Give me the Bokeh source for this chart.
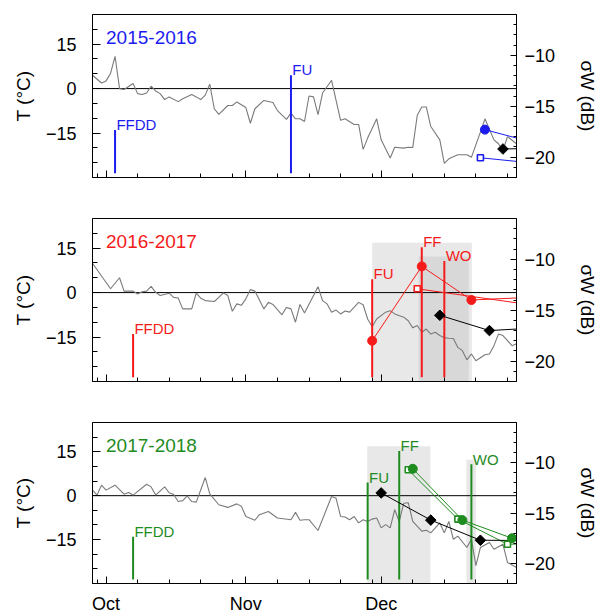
import numpy as np
from bokeh.plotting import figure
from bokeh.models import Range1d, LinearAxis, FixedTicker, Span
from bokeh.layouts import column
from bokeh.embed import file_html
from bokeh.resources import INLINE
from bokeh.core.properties import value

FONT = "Liberation Sans"

# ---- axes (x = days after 1 October) ----
month_ticks = [0, 31, 61]
month_labels = ["Oct", "Nov", "Dec"]
week_ticks = [-2, 7, 14, 21, 28, 38, 45, 52, 59, 68, 75, 82, 89]
t_ticks = [-15, 0, 15]
t_labels = ["\u221215", "0", "15"]
t_minor = [-25, -20, -10, -5, 5, 10, 20]
s_ticks = [-20, -15, -10]
s_labels = ["\u221220", "\u221215", "\u221210"]
s_minor = [-22, -21, -19, -18, -17, -16, -14, -13, -12, -11, -9, -8, -7, -6]

seasons = ["2015-2016", "2016-2017", "2017-2018"]
colors = ["#1c1cf0", "#f51b1b", "#1f8c1f"]

# ---- air temperature (°C) ----
t1_days = [-3, -1, 0, 1, 2, 3, 4, 6, 7, 8, 9, 10, 11, 12, 13, 14, 16, 17, 19, 20,
           21, 22, 23, 24, 25, 27, 28, 29, 31, 32, 33, 35, 37, 38, 40, 41, 42, 43, 44, 45,
           46, 47, 48, 50, 52, 53, 55, 56, 57, 58, 60, 61, 63, 64, 66, 67, 68, 69, 70, 71,
           72, 74, 75, 76, 78, 80, 81, 83, 84, 86, 87, 88, 89, 91]
t1_vals = [4.5, 1.9, 2.6, 5.1, 10.9, 0.0, -0.3, 1.7, -1.7, -2.0, -1.5, 0.8, -0.8, -1.7, -3.7, -2.8, -4.4, -3.4, -2.0, -2.8,
           -3.7, -2.2, 1.5, -6.8, -8.7, -5.7, -5.7, -4.5, -6.4, -11.7, -6.8, -4.0, -4.7, -7.4, -10.4, -8.3, -10.2, -10.2, -11.1, -2.5,
           -2.8, -8.8, -1.5, 2.8, -10.7, -10.2, -12.1, -12.1, -20.5, -16.7, -10.2, -17.3, -23.4, -19.8, -20.1, -19.8, -19.9, -9.0, -6.2, -6.2,
           -12.8, -17.3, -25.2, -23.7, -22.3, -22.3, -23.2, -14.7, -10.2, -17.3, -18.6, -20.9, -16.2, -18.6]

t2_days = [-3, 1, 3, 4, 6, 7, 8, 9, 10, 11, 12, 14, 15, 16, 17, 19, 20, 21, 22, 24,
           25, 26, 27, 28, 29, 30, 31, 32, 33, 35, 36, 37, 39, 40, 41, 42, 43, 44, 47, 48,
           49, 50, 51, 52, 53, 54, 56, 57, 58, 59, 60, 62, 63, 64, 66, 67, 68, 69, 70, 71,
           72, 73, 74, 75, 76, 77, 78, 79, 80, 81, 82, 84, 85, 86, 87, 88, 90, 91]
t2_vals = [9.9, 1.3, 5.0, 0.5, 0.5, -0.5, 0.3, 0.5, 2.1, 0.1, -1.0, -0.2, -1.6, -1.8, -5.5, -5.5, -0.2, -1.9, -2.7, -3.0,
           -1.6, -0.1, -1.0, -6.3, -3.8, -4.3, -2.1, 1.0, 0.5, -5.5, -3.3, -4.0, -7.5, -5.0, -5.5, -10.0, -4.0, -6.9, 2.0, -2.7,
           -3.8, -6.6, -5.9, -7.2, -6.2, -6.6, -3.3, -4.1, -8.9, -11.5, -8.9, -6.6, -6.1, -7.2, -8.3, -9.5, -11.9, -11.1, -13.4, -12.3,
           -14.0, -13.4, -14.5, -15.2, -15.4, -15.5, -18.5, -19.6, -22.7, -20.7, -23.0, -21.0, -20.7, -17.9, -14.0, -14.5, -17.9, -17.3]

t3_days = [-3, -2, -1, 0, 2, 4, 5, 6, 9, 10, 11, 13, 14, 15, 16, 17, 18, 19, 20, 22,
           23, 25, 27, 29, 30, 31, 33, 34, 36, 38, 41, 42, 43, 44, 45, 47, 50, 51, 52, 53,
           54, 55, 56, 57, 58, 59, 60, 61, 62, 63, 64, 65, 66, 67, 68, 70, 71, 72, 74, 75,
           76, 77, 78, 80, 81, 82, 83, 85, 86, 88, 89, 91]
t3_vals = [1.9, 0.2, 3.6, 1.9, 3.6, 0.5, 1.1, 0.2, 3.9, 3.0, 0.2, 3.0, 1.0, 0.4, -2.0, -1.7, -0.1, -2.0, -2.2, 6.2,
           0.6, -3.1, -4.0, -2.8, -3.6, -7.1, -8.4, -6.5, -5.4, -7.6, -8.2, -5.7, -8.4, -8.2, -8.2, -11.9, -0.3, -0.9, -7.1, -7.3,
           -8.2, -7.1, -9.3, -8.2, -8.8, -8.0, -7.6, -11.0, -9.9, -11.0, -4.8, -8.8, -2.6, -2.4, -8.8, -12.1, -11.8, -12.7, -9.3, -12.7,
           -8.8, -14.9, -13.8, -17.7, -14.9, -23.9, -17.7, -16.0, -18.3, -16.6, -22.8, -24.5]

# ---- events (day, name) and their line tops (°C) ----
ev1_days = [2, 41]
ev1_names = ["FFDD", "FU"]
ev2_days = [6, 59, 70, 75]
ev2_names = ["FFDD", "FU", "FF", "WO"]
ev3_days = [6, 58, 65, 81]
ev3_names = ["FFDD", "FU", "FF", "WO"]
event_top = {"FFDD": -14.0, "FU": 4.5, "FF": 15.3, "WO": 10.7}
event_bottom = -28.6

# ---- shaded periods (start day, end day, top °C) ----
shade2_left = [59.0, 69.3]
shade2_right = [81.1, 80.4]
shade2_top = [16.8, 12.2]
shade3_left = [57.9, 79.9]
shade3_right = [71.9, 82.0]
shade3_top = [16.85, 12.3]

# ---- backscatter sigma_W (dB) ----
c1_days, c1_vals = [84, 95], [-17.3, -18.6]
q1_days, q1_vals = [83, 95], [-20.06, -20.6]
d1_days, d1_vals = [88, 101], [-19.2, -19.1]

c2_days, c2_vals = [59, 70, 81, 101], [-18.0, -10.7, -14.0, -13.6]
q2_days, q2_vals = [69, 101], [-12.9, -14.9]
d2_days, d2_vals = [74, 85, 101], [-15.5, -17.0, -16.6]

c3_days, c3_vals = [68, 79, 90, 101], [-10.6, -15.7, -17.5, -17.6]
q3_days, q3_vals = [67, 78, 89, 101], [-10.7, -15.6, -18.1, -18.0]
d3_days, d3_vals = [61, 72, 83, 101], [-13.0, -15.7, -17.7, -17.75]

panels = [
    dict(t=(t1_days, t1_vals), ev=(ev1_days, ev1_names), shade=None,
         c=(c1_days, c1_vals), q=(q1_days, q1_vals), d=(d1_days, d1_vals)),
    dict(t=(t2_days, t2_vals), ev=(ev2_days, ev2_names), shade=(shade2_left, shade2_right, shade2_top),
         c=(c2_days, c2_vals), q=(q2_days, q2_vals), d=(d2_days, d2_vals)),
    dict(t=(t3_days, t3_vals), ev=(ev3_days, ev3_names), shade=(shade3_left, shade3_right, shade3_top),
         c=(c3_days, c3_vals), q=(q3_days, q3_vals), d=(d3_days, d3_vals)),
]


def make_panel(i):
    color = colors[i]
    data = panels[i]
    first = i == 0
    last = i == 2
    border_top = 14 if first else 6
    border_bottom = 31 if last else 35
    height = border_top + 163 + border_bottom
    p = figure(width=601, height=height, x_range=Range1d(-3, 91), y_range=Range1d(-30, 25),
               output_backend="svg", toolbar_location=None, x_axis_type=None, y_axis_type=None,
               min_border_left=92, min_border_right=82, min_border_top=border_top,
               min_border_bottom=border_bottom)
    p.extra_y_ranges = {"sig": Range1d(-22, -6)}
    p.outline_line_color = "black"
    p.outline_line_width = 1
    p.background_fill_color = "white"
    p.border_fill_color = "white"

    # axes
    xa = LinearAxis(ticker=FixedTicker(ticks=month_ticks, minor_ticks=week_ticks),
                    major_label_overrides=dict(zip(month_ticks, month_labels)))
    ya = LinearAxis(ticker=FixedTicker(ticks=t_ticks, minor_ticks=t_minor),
                    major_label_overrides=dict(zip(t_ticks, t_labels)), axis_label="T (°C)")
    ra = LinearAxis(y_range_name="sig", ticker=FixedTicker(ticks=s_ticks, minor_ticks=s_minor),
                    major_label_overrides=dict(zip(s_ticks, s_labels)), axis_label="σW (dB)")
    for ax in (xa, ya, ra):
        ax.axis_line_color = "black"
        ax.major_tick_line_color = "black"
        ax.minor_tick_line_color = "black"
        ax.major_tick_out = 0
        ax.minor_tick_out = 0
        ax.major_label_text_font = FONT
        ax.major_label_text_font_size = "18px"
        ax.major_label_text_color = "black"
        ax.axis_label_text_font = FONT
        ax.axis_label_text_font_size = "19px"
        ax.axis_label_text_font_style = "normal"
        ax.axis_label_text_color = "black"
    xa.major_tick_in, xa.minor_tick_in = 7, 4
    ya.major_tick_in, ya.minor_tick_in = 8, 5
    ra.major_tick_in, ra.minor_tick_in = 6, 3
    xa.major_label_standoff = 10
    ya.major_label_standoff = 16
    ya.axis_label_standoff = 9
    ra.major_label_standoff = 8
    ra.axis_label_standoff = 19
    if not last:
        xa.major_label_text_color = None
    p.add_layout(xa, "below")
    p.add_layout(ya, "left")
    p.add_layout(ra, "right")

    # shaded periods
    if data["shade"] is not None:
        l, r, t = data["shade"]
        q = p.quad(left=l, right=r, bottom=-30, top=t, fill_color="#b4b4b4",
                   fill_alpha=0.3, line_color=None)
        q.level = "image"

    # zero line
    zl = Span(location=0, dimension="width", line_color="black", line_width=1)
    zl.level = "underlay"
    p.add_layout(zl)

    # temperature
    td, tv = data["t"]
    p.line(td, tv, line_color="#7a7a7a", line_width=1.1)

    # events
    ed, en = data["ev"]
    tops = [event_top[n] for n in en]
    p.segment(x0=ed, y0=[event_bottom] * len(ed), x1=ed, y1=tops, line_color=color, line_width=2)
    p.text(x=[d + 0.3 for d in ed], y=[tp + 1.8 for tp in tops], text=en, text_color=color,
           text_font=value(FONT), text_font_size="15px", text_baseline="alphabetic", text_align="left")

    # season title
    p.text(x=[0], y=[17.1], text=[seasons[i]], text_color=color, text_font=value(FONT),
           text_font_size="19px", text_baseline="alphabetic", text_align="left")

    # backscatter series
    qd, qv = data["q"]
    cd, cv = data["c"]
    dd, dv = data["d"]
    p.line(qd, qv, y_range_name="sig", line_color=color, line_width=1)
    p.line(cd, cv, y_range_name="sig", line_color=color, line_width=1)
    p.line(dd, dv, y_range_name="sig", line_color="black", line_width=1)
    p.scatter(dd, dv, y_range_name="sig", marker="square", angle=np.pi / 4, size=7.5,
              fill_color="black", line_color="black")
    p.scatter(qd, qv, y_range_name="sig", marker="square", size=6, fill_color="white",
              line_color=color, line_width=1.6)
    p.scatter(cd, cv, y_range_name="sig", marker="circle", size=9, fill_color=color,
              line_color=color)
    return p


figs = [make_panel(0), make_panel(1), make_panel(2)]
layout = column(*figs, spacing=0)

open("out.html", "w").write(file_html(layout, INLINE))
